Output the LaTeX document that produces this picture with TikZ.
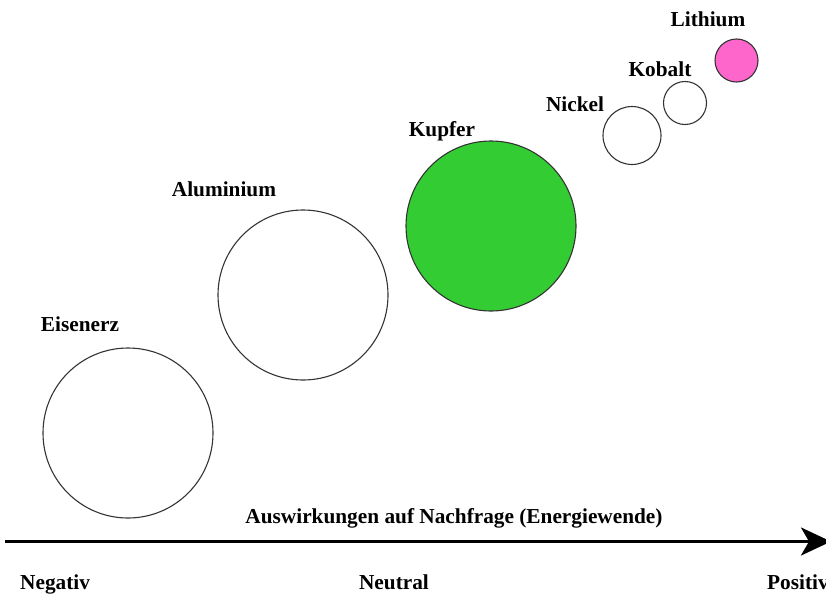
\documentclass[tikz,border=0pt]{standalone}
\usepackage{fontspec}
\setmainfont{Liberation Serif}
\usetikzlibrary{arrows.meta}
\definecolor{kgreen}{HTML}{33CC33}
\definecolor{lpink}{HTML}{FF66CC}
\begin{document}
\begin{tikzpicture}[x=1pt,y=-1pt,
  bubble/.style={circle,draw=black!80,line width=1.1pt,inner sep=0pt},
  lbl/.style={font=\fontsize{21.3}{25}\selectfont\bfseries,inner sep=0pt,anchor=base}]
\useasboundingbox (0,0) rectangle (826,597);
\clip (0,0) rectangle (826,597);
\node[bubble,minimum size=170pt] (eis) at (128,433) {};
\node[bubble,minimum size=170pt] (alu) at (303,295) {};
\node[bubble,minimum size=170pt,fill=kgreen] (kup) at (491,226) {};
\node[bubble,minimum size=58pt] (nic) at (632,135.5) {};
\node[bubble,minimum size=43pt] (kob) at (685,103) {};
\node[bubble,minimum size=43pt,fill=lpink] (lit) at (736.5,60.5) {};
\node[lbl] (leis) at (80,331) {Eisenerz};
\node[lbl] (lalu) at (224,196) {Aluminium};
\node[lbl] (lkup) at (442,136) {Kupfer};
\node[lbl] (lnic) at (575,111) {Nickel};
\node[lbl] (lkob) at (660,76) {Kobalt};
\node[lbl] (llit) at (708,26) {Lithium};
\coordinate (a0) at (5,541.5);
\coordinate (a1) at (831,541.5);
\draw[line width=3pt,-{Stealth[length=30pt,width=28pt,inset=8pt]}] (a0) -- (a1);
\node[lbl] (ax) at (454,523) {Auswirkungen auf Nachfrage (Energiewende)};
\node[lbl,anchor=base west] (neg) at (20,589) {Negativ};
\node[lbl] (neu) at (394,589) {Neutral};
\node[lbl,anchor=base west] (pos) at (767,589) {Positiv};
\end{tikzpicture}
\end{document}
